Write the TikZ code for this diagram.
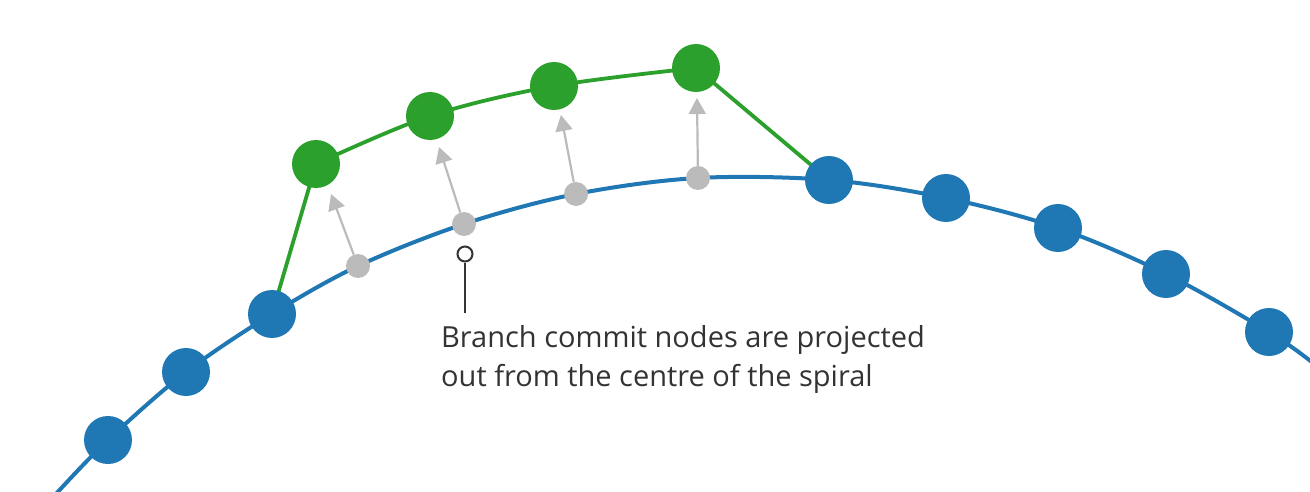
\documentclass[tikz,border=0pt]{standalone}
\usepackage{fontspec}
\setmainfont{Open Sans}
\usetikzlibrary{arrows.meta,backgrounds}
\definecolor{cblue}{HTML}{1F77B4}
\definecolor{cgreen}{HTML}{2CA02C}
\definecolor{cgray}{HTML}{BBBBBB}
\definecolor{ctext}{HTML}{333333}
\tikzset{
  bnode/.style={circle,fill=cblue,minimum size=48pt,inner sep=0pt},
  cnode/.style={circle,fill=cgreen,minimum size=48pt,inner sep=0pt},
  pnode/.style={circle,fill=cgray,minimum size=24pt,inner sep=0pt},
  bline/.style={draw=cblue,line width=4pt},
  cline/.style={draw=cgreen,line width=3.8pt},
  proj/.style={draw=cgray,line width=2.2pt,-{Triangle[length=16pt,width=17pt]}},
  annot/.style={draw=ctext,line width=2pt},
}
\begin{document}
\begin{tikzpicture}[x=1pt,y=-1pt]
\useasboundingbox (0,0) rectangle (1310,492);
% blue nodes
\node[bnode] (b1) at (108,440) {};
\node[bnode] (b2) at (186,372) {};
\node[bnode] (b3) at (272,314) {};
\node[bnode] (b4) at (829,180) {};
\node[bnode] (b5) at (946,198) {};
\node[bnode] (b6) at (1058,228) {};
\node[bnode] (b7) at (1166,274) {};
\node[bnode] (b8) at (1269,332) {};
% gray projection nodes
\node[pnode] (p1) at (358,266) {};
\node[pnode] (p2) at (464,224) {};
\node[pnode] (p3) at (576,194) {};
\node[pnode] (p4) at (698,178) {};
% green nodes
\node[cnode] (c1) at (316,164) {};
\node[cnode] (c2) at (430,116) {};
\node[cnode] (c3) at (554,86) {};
\node[cnode] (c4) at (696,68) {};
% ends and arrow tips
\coordinate (s0) at (55,495);
\coordinate (s9) at (1313,363);
\coordinate (t1) at (331,194);
\coordinate (t2) at (439,147);
\coordinate (t3) at (561,115);
\coordinate (t4) at (697,98);
\begin{pgfonlayer}{background}
\draw[bline] plot[smooth,tension=0.55] coordinates {(s0) (b1.center) (b2.center) (b3.center) (p1.center) (p2.center) (p3.center) (p4.center) (b4.center) (b5.center) (b6.center) (b7.center) (b8.center) (s9)};
\draw[cline] (b3.center) -- (c1.center);
\draw[cline] plot[smooth,tension=0.55] coordinates {(c1.center) (c2.center) (c3.center) (c4.center)};
\draw[cline] (c4.center) -- (b4.center);
\end{pgfonlayer}
% projection arrows
\draw[proj] (p1) -- (t1);
\draw[proj] (p2) -- (t2);
\draw[proj] (p3) -- (t3);
\draw[proj] (p4) -- (t4);
% annotation
\node[circle,draw=ctext,fill=white,line width=2pt,minimum size=15pt,inner sep=0pt] (ann) at (465,254) {};
\coordinate (annb) at (465,313);
\draw[annot] (ann) -- (annb);
\node[anchor=base west,align=left,inner sep=0pt,text=ctext,font=\fontsize{29pt}{39pt}\selectfont] (txt) at (441,386) {Branch commit nodes are projected\\out from the centre of the spiral};
\end{tikzpicture}
\end{document}
